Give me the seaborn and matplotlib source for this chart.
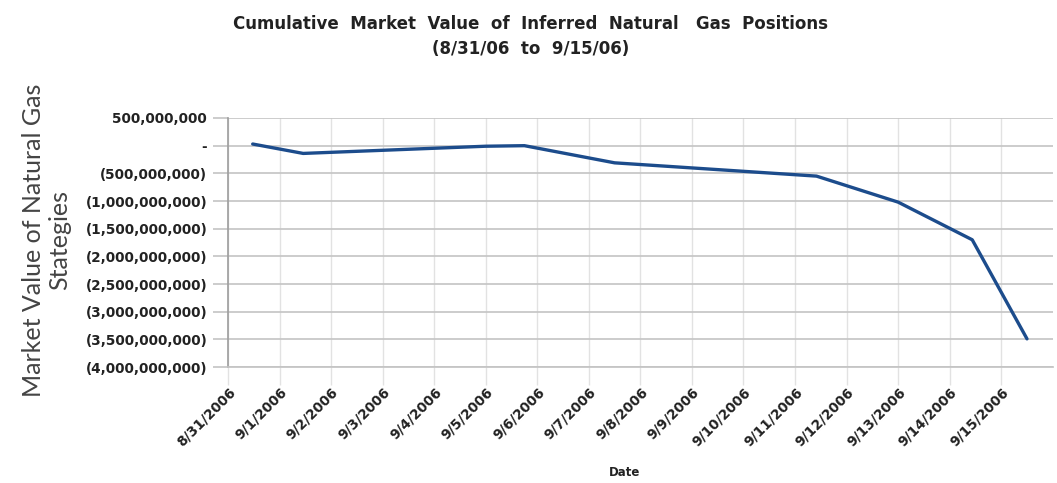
import matplotlib
matplotlib.use("Agg")
import matplotlib.pyplot as plt
import matplotlib.ticker as mticker
import seaborn as sns
import pandas as pd

# ---- data ----
point_times = ["2006-08-31 11:30", "2006-09-01 11:00", "2006-09-05 00:00",
               "2006-09-05 18:00", "2006-09-07 12:00", "2006-09-11 10:00",
               "2006-09-13 00:00", "2006-09-14 10:30", "2006-09-15 12:00"]
market_values = [30e6, -140e6, -10e6, 0.0, -310e6, -550e6,
                 -1020e6, -1700e6, -3490e6]
tick_dates = ["2006-08-31", "2006-09-01", "2006-09-02", "2006-09-03",
              "2006-09-04", "2006-09-05", "2006-09-06", "2006-09-07",
              "2006-09-08", "2006-09-09", "2006-09-10", "2006-09-11",
              "2006-09-12", "2006-09-13", "2006-09-14", "2006-09-15"]
y_ticks = [500e6, 0, -500e6, -1000e6, -1500e6, -2000e6, -2500e6,
           -3000e6, -3500e6, -4000e6]

title = "Cumulative  Market  Value  of  Inferred  Natural   Gas  Positions\n(8/31/06  to  9/15/06)"
x_label = "Date"
y_label = "Market Value of Natural Gas\nStategies"

df = pd.DataFrame({"time": pd.to_datetime(point_times), "value": market_values})
ticks = pd.to_datetime(tick_dates)

sns.set_theme(style="white")
plt.rcParams["font.family"] = ["DejaVu Sans"]

fig = plt.figure(figsize=(10.57, 4.83), dpi=100)
ax = fig.add_axes([0.2157, 0.240, 0.7803, 0.5157])

sns.lineplot(data=df, x="time", y="value", ax=ax, color="#1c4c8c",
             linewidth=2.4, zorder=3)

ax.set_ylim(-4000e6, 500e6)
ax.set_xlim(ticks[0], ticks[-1] + pd.Timedelta(days=1))
ax.set_yticks(y_ticks)


def acct(v, pos=None):
    if abs(v) < 1:
        return "-"
    s = f"{abs(v):,.0f}"
    return f"({s})" if v < 0 else s


ax.yaxis.set_major_formatter(mticker.FuncFormatter(acct))
ax.set_xticks(ticks)
ax.set_xticklabels([f"{d.month}/{d.day}/{d.year}" for d in ticks],
                   rotation=45, ha="right", rotation_mode="anchor",
                   fontsize=9.8, fontweight="bold", color="#222222")
for lab in ax.get_yticklabels():
    lab.set_fontsize(9.8)
    lab.set_fontweight("bold")
    lab.set_color("#222222")

ax.grid(axis="y", color="#c4c4c4", linewidth=1.2)
ax.grid(axis="x", color="#e2e2e2", linewidth=1.0)
ax.set_axisbelow(True)
for side in ["top", "right"]:
    ax.spines[side].set_visible(False)
ax.spines["left"].set_color("#a0a0a0")
ax.spines["bottom"].set_color("#c4c4c4")
ax.tick_params(axis="y", length=11, width=1.2, color="#c4c4c4", pad=4,
               left=True)
ax.tick_params(axis="x", length=13, width=1.0, color="#e2e2e2", pad=0,
               bottom=True)

ax.set_xlabel("")
fig.text(0.591, 0.008, x_label, ha="center", va="bottom", fontsize=8.5,
         fontweight="bold", color="#222222")
ax.set_ylabel(y_label, fontsize=18, family=["Lato", "DejaVu Sans"],
              color="#444444", linespacing=1.15)
ax.yaxis.set_label_coords(-0.19, 0.51)

fig.text(0.502, 0.968, title, ha="center", va="top", fontsize=12,
         fontweight="bold", color="#222222", linespacing=1.45)

fig.savefig("out.png", dpi=100, facecolor="white")
